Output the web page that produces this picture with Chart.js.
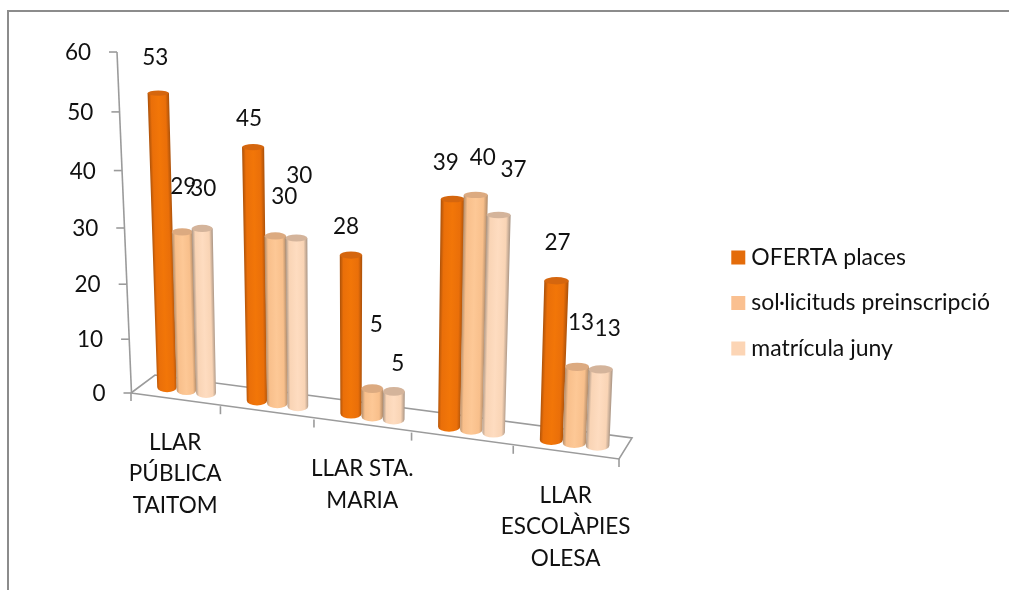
<!DOCTYPE html>
<html><head><meta charset="utf-8">
<style>html,body{margin:0;padding:0;background:#fff}canvas{display:block}</style>
<script src="https://cdn.jsdelivr.net/npm/chart.js@4"></script>
</head><body><canvas id="c" width="1009" height="590"></canvas>
<script>
const categories = [['LLAR','PÚBLICA','TAITOM'], '', ['LLAR STA.','MARIA'], '', ['LLAR','ESCOLÀPIES','OLESA']];
const seriesNames = ['OFERTA places', 'sol·licituds preinscripció', 'matrícula juny'];
const ofertaPlaces = [53, 45, 28, 39, 27];
const solLicituds = [29, 30, 5, 40, 13];
const matriculaJuny = [30, 30, 5, 37, 13];
const yMax = 60, yStep = 10;

const seriesColors = ['#E46C0A', '#FAC090', '#FCD5B5'];
const shades = [
  {edge:'#a9500a', mid:'#f27608', lite:'#ea6f09', cap:'#d5660e'},
  {edge:'#b08a68', mid:'#fdc896', lite:'#f8bf8b', cap:'#dcaa80'},
  {edge:'#a89484', mid:'#fedcc0', lite:'#f9d4b5', cap:'#d4b49b'}
];
// label nudges from each cylinder's top, [dx, dy] per series per category
const labelNudges = [
  [[-3,-35],[-4,-28],[-5,-28],[-7,-36],[1,-38]],
  [[1,-45],[9,-39],[4,-64],[7,-37],[4,-44]],
  [[1,-40],[3,-62],[4,-28],[15,-45],[7,-41]]
];
const FONT = 'Lato';
const TXT = '#111';
const LINE = '#9b9b9b';

// oblique projection of the chart's floor and walls
const frontX = u => 131 + 437*u + 51*u*u;
const frontY = u => 393 + 66*u;
const midX = u => frontX(u) + 11.5 - 3*u;
const midY = u => frontY(u) - 9.5;
const unitH = (u, v) => 5.25 + 0.005*v + 0.6*u;

function cylinder(ctx, el, chart, si) {
  const a = chart.chartArea, W = a.right - a.left, H = a.bottom - a.top;
  const u = (el.x - a.left)/W;
  const v = yMax*(a.bottom - el.y)/H;
  const bx = midX(u), by = midY(u);
  const h = v*unitH(u, v);
  const lean = (bx-352)*0.00016;
  const tx = bx + lean*h, ty = by - h;
  const wb = (437 + 102*u)*(el.width/W);
  const wt = wb*(1 + 0.1*h/300);
  const ryB = 5, ryT = Math.max(2.6, 4.6 - v*0.035);
  const s = shades[si];
  ctx.save();
  // shear so that the shading follows the leaning cylinder
  ctx.transform(1, 0, -lean, 1, lean*by, 0);
  const g = ctx.createLinearGradient(bx-wt/2, 0, bx+wt/2, 0);
  g.addColorStop(0, s.edge); g.addColorStop(0.16, s.lite); g.addColorStop(0.5, s.mid);
  g.addColorStop(0.82, s.lite); g.addColorStop(1, s.edge);
  ctx.beginPath();
  ctx.moveTo(bx - wt/2, ty);
  ctx.lineTo(bx - wb/2, by);
  ctx.ellipse(bx, by, wb/2, ryB, 0, Math.PI, 0, true);
  ctx.lineTo(bx + wt/2, ty);
  ctx.closePath();
  ctx.fillStyle = g; ctx.fill();
  ctx.restore();
  ctx.beginPath();
  ctx.ellipse(tx, ty, wt/2, ryT, 0, 0, Math.PI*2);
  ctx.fillStyle = s.cap; ctx.fill();
  return {x: tx, y: ty};
}

const cylinderPlugin = {
  id: 'cylinders',
  beforeDraw(chart) {
    const ctx = chart.ctx;
    ctx.save();
    ctx.strokeStyle = '#8c8c8c'; ctx.lineWidth = 2;
    ctx.beginPath(); ctx.moveTo(8, 590); ctx.lineTo(8, 11); ctx.lineTo(1009, 11); ctx.stroke();
    // floor
    const a = chart.chartArea;
    const xs = chart.scales.x, ys = chart.scales.y;
    ctx.strokeStyle = LINE; ctx.lineWidth = 1.6;
    ctx.beginPath();
    ctx.moveTo(frontX(0), frontY(0)); ctx.lineTo(frontX(1), frontY(1));
    ctx.lineTo(632, 438); ctx.lineTo(155, 375); ctx.lineTo(frontX(0), frontY(0));
    ctx.stroke();
    const n = categories.length;
    for (let i = 0; i <= n; i++) {
      const u = i/n;
      ctx.beginPath(); ctx.moveTo(frontX(u), frontY(u)); ctx.lineTo(frontX(u), frontY(u)+8); ctx.stroke();
    }
    const axX = v => 131.5 - 14.5*v/yMax;
    const axY = v => 393 - 5.317*v - 0.0061*v*v;
    ctx.beginPath(); ctx.moveTo(axX(0), axY(0)); ctx.lineTo(axX(yMax), axY(yMax)); ctx.stroke();
    ctx.fillStyle = TXT; ctx.font = '22.5px ' + FONT; ctx.textAlign = 'right'; ctx.textBaseline = 'middle';
    ys.ticks.forEach(t => {
      const v = yMax*(a.bottom - ys.getPixelForValue(t.value))/(a.bottom - a.top);
      const x = axX(v), y = axY(v);
      ctx.beginPath(); ctx.moveTo(x-8, y); ctx.lineTo(x, y); ctx.stroke();
      ctx.fillText(t.label, x - 26, y + 1);
    });
    // category labels
    ctx.textAlign = 'center';
    xs.ticks.forEach((t, i) => {
      const raw = categories[i];
      const lines = Array.isArray(raw) ? raw : (raw ? [raw] : []);
      const u = (xs.getPixelForTick(i) - a.left)/(a.right - a.left);
      lines.forEach((ln, k) => ctx.fillText(ln, frontX(u), frontY(u) + 43 + k*31.5));
    });
    ctx.restore();
  },
  beforeDatasetDraw() { return false; },
  afterDatasetsDraw(chart) {
    const ctx = chart.ctx;
    ctx.save();
    const tops = [];
    const metas = [0,1,2].map(i => chart.getDatasetMeta(i));
    categories.forEach((_, c) => metas.forEach((m, si) => {
      const top = cylinder(ctx, m.data[c], chart, si);
      tops.push([top, si, c]);
    }));
    ctx.fillStyle = TXT; ctx.font = '22.5px ' + FONT; ctx.textAlign = 'center'; ctx.textBaseline = 'middle';
    tops.forEach(([p, si, c]) => {
      const n = labelNudges[si][c];
      ctx.fillText(String(chart.data.datasets[si].data[c]), p.x + n[0], p.y + n[1]);
    });
    ctx.restore();
  }
};

new Chart(document.getElementById('c'), {
  type: 'bar',
  data: {
    labels: categories,
    datasets: [
      {label: seriesNames[0], data: ofertaPlaces, backgroundColor: seriesColors[0]},
      {label: seriesNames[1], data: solLicituds, backgroundColor: seriesColors[1]},
      {label: seriesNames[2], data: matriculaJuny, backgroundColor: seriesColors[2]}
    ]
  },
  options: {
    responsive: false, animation: false,
    layout: {padding: {left: 130, top: 146, bottom: 130, right: 9}},
    datasets: {bar: {categoryPercentage: 0.66, barPercentage: 1}},
    plugins: {
      tooltip: {enabled: false},
      legend: {
        position: 'right',
        labels: {
          boxWidth: 3, boxHeight: 3, padding: 22.5, color: TXT,
          font: {family: FONT, size: 23},
          generateLabels(c) {
            return Chart.defaults.plugins.legend.labels.generateLabels(c)
              .map(i => ({...i, lineWidth: 11, strokeStyle: i.fillStyle}));
          }
        }
      }
    },
    scales: {
      x: {display: false},
      y: {display: false, min: 0, max: yMax, ticks: {stepSize: yStep}}
    }
  },
  plugins: [cylinderPlugin]
});
</script></body></html>
